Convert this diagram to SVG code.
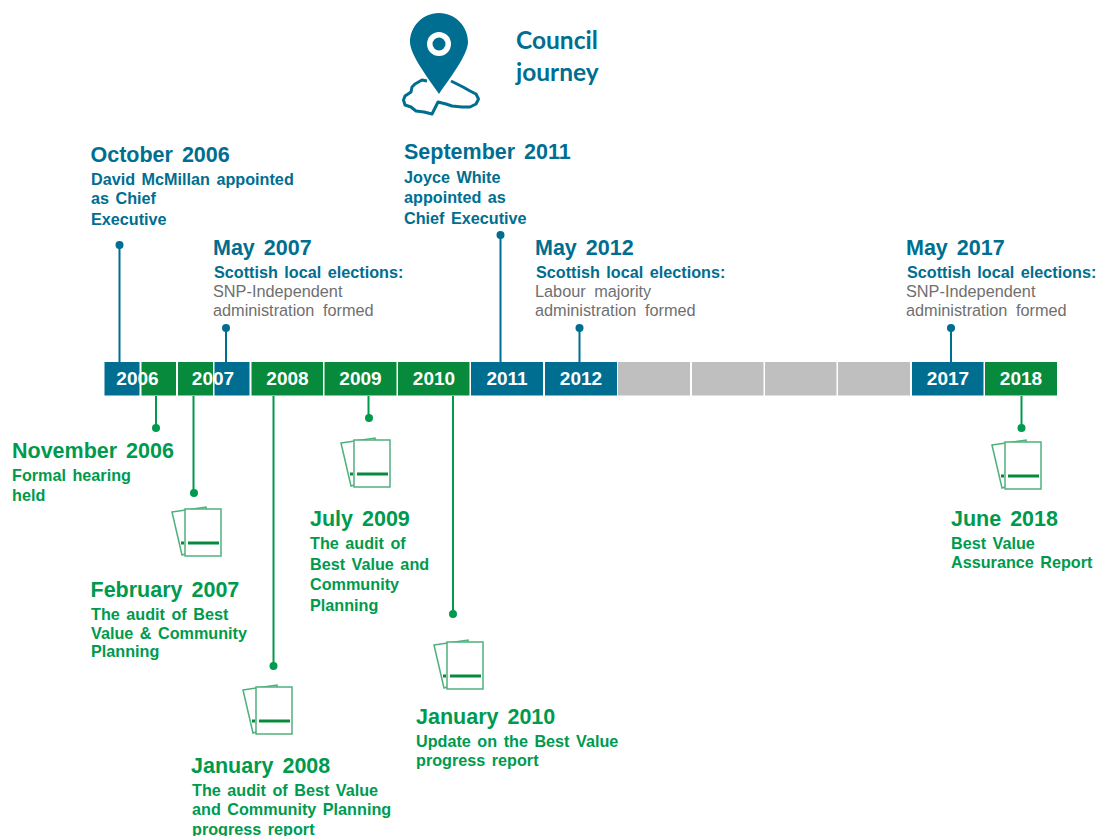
<svg xmlns="http://www.w3.org/2000/svg" width="1098" height="836" viewBox="0 0 1098 836">
<style>
text{font-family:"Liberation Sans",Arial,sans-serif;font-weight:700}
.h{font-size:21.5px;word-spacing:3px}
.s{font-size:16.2px;word-spacing:2px}
.b{fill:#006e90}.g{fill:#009a4e}.k{fill:#6f6f6f;font-weight:400;font-size:16.3px;word-spacing:4px}
.y{font-size:19px;fill:#fff;text-anchor:middle}
.lb{stroke:#006e90;stroke-width:2;fill:none}.lg{stroke:#009a4e;stroke-width:2;fill:none}
.db{fill:#006e90}.dg{fill:#009a4e}
.sb{fill:#006e90}.sg{fill:#078a3c}.sn{fill:#bfbfbf}
.p{fill:#fff;stroke:#4fb07c;stroke-width:1.5}
.r{stroke:#078a3c;stroke-width:3;fill:none}
.t{font-family:Lato,sans-serif;font-size:24.500px}
</style>
<defs>
<g id="doc">
<path class="p" d="M0 5L34 0L36 40L10 48Z"/>
<rect class="p" x="13" y="2" width="36" height="47"/>
<path class="r" d="M9 36H12M16 36H47"/>
</g>
</defs>
<g id="logo">
<path class="b" d="M439 13C422 13 410 27 410 42C410 55 429 79 439 94C449 79 468 55 468 42C468 27 456 13 439 13Z"/>
<circle cx="439" cy="44" r="12" fill="#fff"/><circle cx="439" cy="44" r="6.500" class="b"/>
<path d="M427 81L422 80L415 84L412 87L411 92L405 96L403.500 100L405 105L411 107L416 111L424 112L432 114L435 108L438 102L446 104L452 106L462 107L470 107L476 104L478.500 99L476 94L470 91L463 87L457 84L451 81" fill="none" stroke="#006e90" stroke-width="3" stroke-linejoin="round"/>
<text x="516" y="49" class="t b">Council</text>
<text x="516" y="81" class="t b">journey</text>
</g>
<g id="connectors">
<path class="lb" d="M119.500 245V362M226 328V362M500.500 235V362M579.500 328V362M951 328V362"/>
<path class="lg" d="M156 396V428M193.500 396V493M273.500 396V666M368.500 396V418M453 396V614M1021.500 396V428"/>
<g class="db"><circle cx="119.500" cy="245" r="4"/><circle cx="226" cy="328" r="4"/><circle cx="500.500" cy="235" r="4"/><circle cx="579.500" cy="328" r="4"/><circle cx="951" cy="328" r="4"/></g>
<g class="dg"><circle cx="156" cy="428" r="4"/><circle cx="194" cy="493" r="4"/><circle cx="273.500" cy="666" r="4"/><circle cx="369" cy="418" r="4"/><circle cx="453" cy="614" r="4"/><circle cx="1021.500" cy="428" r="4"/></g>
</g>
<g id="timeline">
<rect class="sb" x="104.500" y="362" width="35" height="33.500"/>
<rect class="sg" x="141.500" y="362" width="34.500" height="33.500"/>
<rect class="sg" x="178" y="362" width="35" height="33.500"/>
<rect class="sb" x="214.500" y="362" width="35" height="33.500"/>
<rect class="sg" x="251.500" y="362" width="71.500" height="33.500"/>
<rect class="sg" x="324.500" y="362" width="72" height="33.500"/>
<rect class="sg" x="398" y="362" width="71.500" height="33.500"/>
<rect class="sb" x="471" y="362" width="72" height="33.500"/>
<rect class="sb" x="545" y="362" width="72" height="33.500"/>
<rect class="sn" x="618" y="362" width="72" height="33.500"/>
<rect class="sn" x="692" y="362" width="71.500" height="33.500"/>
<rect class="sn" x="765" y="362" width="71.500" height="33.500"/>
<rect class="sn" x="838" y="362" width="72" height="33.500"/>
<rect class="sb" x="912" y="362" width="71.500" height="33.500"/>
<rect class="sg" x="985" y="362" width="72" height="33.500"/>
<text class="y" x="137.500" y="385">2006</text>
<text class="y" x="213" y="385">2007</text>
<text class="y" x="287.500" y="385">2008</text>
<text class="y" x="360.500" y="385">2009</text>
<text class="y" x="434" y="385">2010</text>
<text class="y" x="507" y="385">2011</text>
<text class="y" x="581" y="385">2012</text>
<text class="y" x="948" y="385">2017</text>
<text class="y" x="1021" y="385">2018</text>
</g>
<g id="oct2006"><text class="h b" x="90.500" y="162">October 2006</text><text class="s b" x="91" y="184.500">David McMillan appointed</text><text class="s b" x="91" y="203.500">as Chief</text><text class="s b" x="91" y="224.500">Executive</text></g>
<g id="may2007"><text class="h b" x="213" y="255">May 2007</text><text class="s b" x="214" y="277.500">Scottish local elections:</text><text class="k" x="213" y="296.500">SNP-Independent</text><text class="k" x="213" y="315.500">administration formed</text></g>
<g id="sep2011"><text class="h b" x="404" y="159">September 2011</text><text class="s b" x="404" y="182.500">Joyce White</text><text class="s b" x="404" y="202.500">appointed as</text><text class="s b" x="404" y="223.500">Chief Executive</text></g>
<g id="may2012"><text class="h b" x="535" y="255">May 2012</text><text class="s b" x="536" y="277.500">Scottish local elections:</text><text class="k" x="535" y="296.500">Labour majority</text><text class="k" x="535" y="315.500">administration formed</text></g>
<g id="may2017"><text class="h b" x="906" y="255">May 2017</text><text class="s b" x="907" y="277.500">Scottish local elections:</text><text class="k" x="906" y="296.500">SNP-Independent</text><text class="k" x="906" y="315.500">administration formed</text></g>
<g id="nov2006"><text class="h g" x="12" y="458">November 2006</text><text class="s g" x="12" y="480.500">Formal hearing</text><text class="s g" x="12" y="500.500">held</text></g>
<g id="feb2007"><use href="#doc" x="172" y="507"/><text class="h g" x="90.500" y="597">February 2007</text><text class="s g" x="91" y="619.500">The audit of Best</text><text class="s g" x="91" y="638.500">Value &amp; Community</text><text class="s g" x="91" y="656.500">Planning</text></g>
<g id="jan2008"><use href="#doc" x="243" y="685"/><text class="h g" x="191" y="773">January 2008</text><text class="s g" x="192" y="795.500">The audit of Best Value</text><text class="s g" x="192" y="814.500">and Community Planning</text><text class="s g" x="192" y="834.500">progress report</text></g>
<g id="jul2009"><use href="#doc" x="341" y="438"/><text class="h g" x="310" y="526">July 2009</text><text class="s g" x="310" y="548.500">The audit of</text><text class="s g" x="310" y="569.500">Best Value and</text><text class="s g" x="310" y="589.500">Community</text><text class="s g" x="310" y="610.500">Planning</text></g>
<g id="jan2010"><use href="#doc" x="434" y="640"/><text class="h g" x="416" y="724">January 2010</text><text class="s g" x="416" y="746.500">Update on the Best Value</text><text class="s g" x="416" y="765.500">progress report</text></g>
<g id="jun2018"><use href="#doc" x="992" y="440"/><text class="h g" x="951" y="526">June 2018</text><text class="s g" x="951" y="548.500">Best Value</text><text class="s g" x="951" y="567.500">Assurance Report</text></g>
</svg>
